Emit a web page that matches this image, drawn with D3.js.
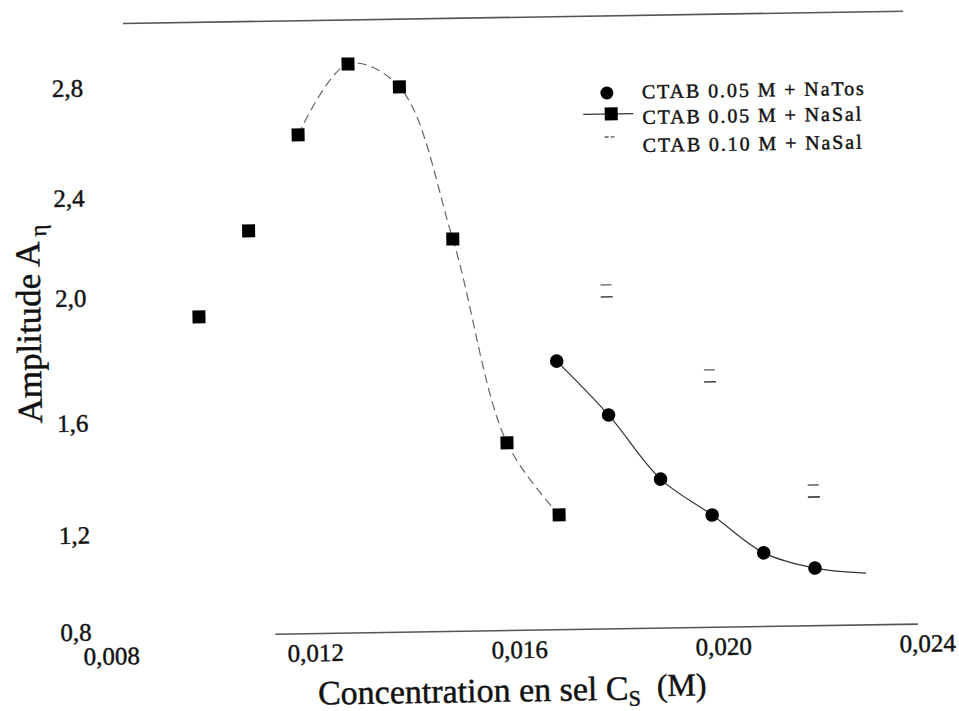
<!DOCTYPE html>
<html><head><meta charset="utf-8">
<script src="https://cdn.jsdelivr.net/npm/d3@7/dist/d3.min.js"></script>
<style>
body{margin:0;background:#fff}
svg{display:block}
text{font-family:"Liberation Serif","Times New Roman",Times,serif;fill:#111}
.heavy{stroke:#111;stroke-width:0.45px;paint-order:stroke}
</style>
</head><body>
<svg id="chart" width="959" height="711"></svg>
<script>
// ---- data ----
const natosX   = [0.017, 0.018, 0.019, 0.020, 0.021, 0.022];
const natosY   = [1.774, 1.599, 1.367, 1.236, 1.082, 1.016];
const nasal05X = [0.010, 0.011, 0.012, 0.013, 0.014, 0.015, 0.016, 0.017];
const nasal05Y = [1.933, 2.257, 2.616, 2.871, 2.785, 2.212, 1.505, 1.245];
const nasal10X = [0.018, 0.020, 0.022];
const nasal10Y = [1.996, 1.719, 1.316];
// fitted curves visible in the picture
const natosFitX   = [0.017, 0.018, 0.019, 0.020, 0.021, 0.022, 0.0230];
const natosFitY   = [1.774, 1.599, 1.367, 1.236, 1.082, 1.016, 0.992];
const nasal05FitX = [0.012, 0.013, 0.014, 0.015, 0.016, 0.017];
const nasal05FitY = [2.616, 2.871, 2.785, 2.212, 1.505, 1.245];
const xTicks = [0.008, 0.012, 0.016, 0.020, 0.024];
const yTicks = [0.8, 1.2, 1.6, 2.0, 2.4, 2.8];
const seriesNames = ["CTAB 0.05 M + NaTos", "CTAB 0.05 M + NaSal", "CTAB 0.10 M + NaSal"];
const xTitle = "Concentration en sel C", xTitleSub = "S", xTitleUnit = "(M)";
const yTitle = "Amplitude A", yTitleSub = "\u03B7";

// ---- layout ----
const svg = d3.select("#chart");
const root = svg.append("g").attr("transform", "rotate(-0.9,480,355)");
const x = d3.scaleLinear().domain([0.008, 0.024]).range([97.6, 913.6]);
// the scanned original is slightly uneven: map each tick label where it sits
const y = d3.scaleLinear().domain(yTicks).range([625.6, 528.7, 416.7, 291.6, 191.6, 81.5]);
const comma = f => v => d3.format(f)(v).replace(".", ",");

// frame lines (top and bottom of plot box)
root.append("line")
  .attr("x1", x(0.0086)).attr("x2", x(0.0239))
  .attr("y1", y(3.031)).attr("y2", y(3.031))
  .attr("stroke", "#555").attr("stroke-width", 1.6);
root.append("line")
  .attr("x1", x(0.0114)).attr("x2", x(0.0240))
  .attr("y1", y(0.778)).attr("y2", y(0.778))
  .attr("stroke", "#555").attr("stroke-width", 1.6);

// axes (labels only, as in the reference)
const gx = root.append("g").attr("transform", "translate(9,650)")
  .call(d3.axisBottom(x).tickValues(xTicks).tickFormat(comma(".3f")).tickSize(0));
gx.select(".domain").remove();
gx.selectAll("text").attr("y", 0).attr("dy", "0.35em").attr("class", "heavy")
  .style("font-family", "Liberation Serif").style("font-size", "25px").attr("fill", "#111");

const gy = root.append("g").attr("transform", "translate(56,0)")
  .call(d3.axisLeft(y).tickValues(yTicks).tickFormat(comma(".1f")).tickSize(0));
gy.select(".domain").remove();
gy.selectAll("text").attr("x", 0).attr("dy", "0.33em").attr("text-anchor", "start").attr("class", "heavy")
  .style("font-family", "Liberation Serif").style("font-size", "25px").attr("fill", "#111");

// axis titles
const xt = root.append("text").attr("x", 507).attr("y", 702).attr("text-anchor", "middle")
  .attr("class", "heavy").style("font-size", "34px");
xt.append("tspan").text(xTitle);
xt.append("tspan").text(xTitleSub).attr("dy", 6).style("font-size", "22px");
xt.append("tspan").text(" " + xTitleUnit).attr("dy", -9).attr("dx", 8).style("font-size", "32px");

const yt = root.append("text").attr("transform", "translate(41,317) rotate(-90)")
  .attr("text-anchor", "middle").attr("class", "heavy").style("font-size", "35px");
yt.append("tspan").text(yTitle);
yt.append("tspan").text(yTitleSub).attr("dy", 7).attr("dx", 5).style("font-size", "23px");

// fitted curves
const line = d3.line().x(d => x(d[0])).y(d => y(d[1])).curve(d3.curveCatmullRom.alpha(0.5));
root.append("path").datum(d3.zip(nasal05FitX, nasal05FitY)).attr("d", line)
  .attr("fill", "none").attr("stroke", "#666").attr("stroke-width", 1.2).attr("stroke-dasharray", "9,5");
root.append("path").datum(d3.zip(natosFitX, natosFitY)).attr("d", line)
  .attr("fill", "none").attr("stroke", "#333").attr("stroke-width", 1.2);

// markers
root.selectAll(".sq").data(d3.zip(nasal05X, nasal05Y)).join("rect")
  .attr("x", d => x(d[0]) - 6.5).attr("y", d => y(d[1]) - 6.5)
  .attr("width", 13).attr("height", 13).attr("fill", "#000");
root.selectAll(".ci").data(d3.zip(natosX, natosY)).join("circle")
  .attr("cx", d => x(d[0])).attr("cy", d => y(d[1])).attr("r", 6.8).attr("fill", "#000");
const dash = root.selectAll(".da").data(d3.zip(nasal10X, nasal10Y)).join("g")
  .attr("transform", d => `translate(${x(d[0])},${y(d[1])})`);
dash.append("line").attr("x1", -6).attr("x2", 5).attr("y1", -6).attr("y2", -6)
  .attr("stroke", "#777").attr("stroke-width", 1.6);
dash.append("line").attr("x1", -6).attr("x2", 6).attr("y1", 6).attr("y2", 6)
  .attr("stroke", "#444").attr("stroke-width", 1.6);

// legend
const lg = root.append("g");
const rowY = [95, 116, 139], baseY = [101, 126.5, 154.6];
lg.append("circle").attr("cx", 611).attr("cy", rowY[0]).attr("r", 6.5).attr("fill", "#000");
lg.append("line").attr("x1", 587).attr("x2", 637).attr("y1", rowY[1]).attr("y2", rowY[1])
  .attr("stroke", "#333").attr("stroke-width", 1.2);
lg.append("rect").attr("x", 608.5).attr("y", rowY[1] - 6.5).attr("width", 13).attr("height", 13).attr("fill", "#000");
lg.append("line").attr("x1", 608).attr("x2", 612).attr("y1", rowY[2]).attr("y2", rowY[2]).attr("stroke", "#555").attr("stroke-width", 1.4);
lg.append("line").attr("x1", 614).attr("x2", 618).attr("y1", rowY[2]).attr("y2", rowY[2]).attr("stroke", "#555").attr("stroke-width", 1.4);
lg.selectAll(".lt").data(seriesNames).join("text")
  .attr("x", 646).attr("y", (d, i) => baseY[i]).text(d => d).attr("class", "heavy")
  .style("font-size", "20px").style("letter-spacing", "1.9px");
</script>
</body></html>
